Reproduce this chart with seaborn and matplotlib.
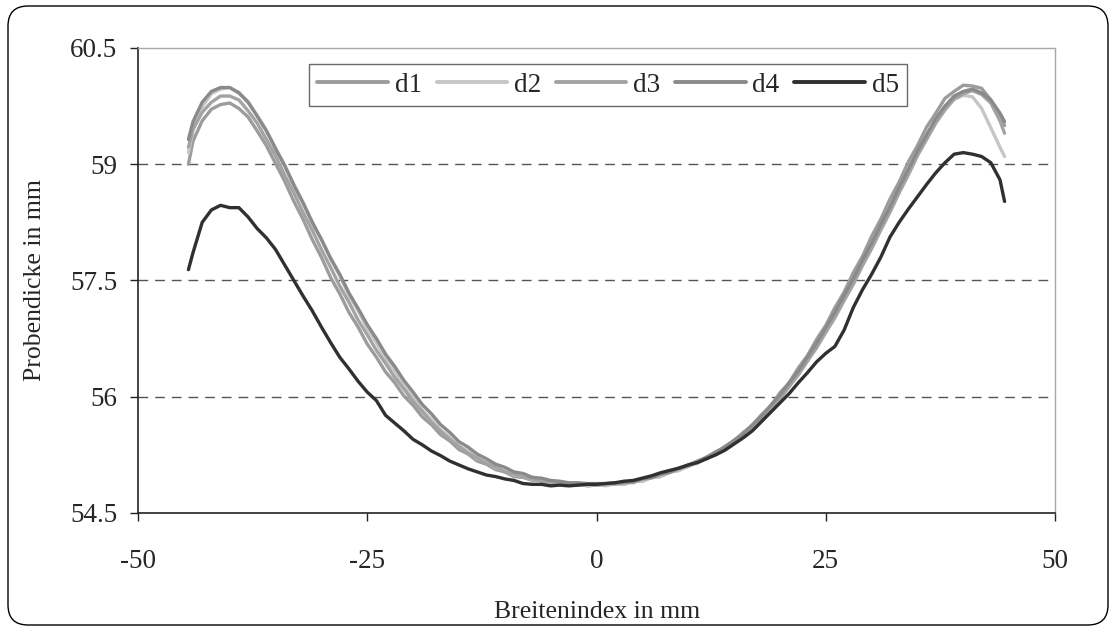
import numpy as np
import pandas as pd
import matplotlib
matplotlib.use("Agg")
import matplotlib.pyplot as plt
from matplotlib.patches import FancyBboxPatch
from matplotlib.lines import Line2D
import seaborn as sns

# ---------------- data ----------------
x_mm = [-44.5] + list(range(-44, 45)) + [44.5]

d1 = [59.00, 59.30, 59.56, 59.71, 59.77, 59.79, 59.72, 59.61, 59.43, 59.24,
      59.01, 58.78, 58.52, 58.29, 58.03, 57.80, 57.54, 57.33, 57.09, 56.90,
      56.68, 56.51, 56.32, 56.18, 56.01, 55.89, 55.74, 55.64, 55.51, 55.43,
      55.32, 55.26, 55.17, 55.13, 55.06, 55.03, 54.97, 54.96, 54.92, 54.92,
      54.88, 54.89, 54.86, 54.88, 54.85, 54.86, 54.86, 54.88, 54.87, 54.91,
      54.91, 54.96, 54.97, 55.03, 55.05, 55.12, 55.15, 55.22, 55.27, 55.36,
      55.43, 55.54, 55.63, 55.77, 55.88, 56.05, 56.18, 56.37, 56.53, 56.74,
      56.92, 57.15, 57.35, 57.60, 57.81, 58.07, 58.29, 58.55, 58.77, 59.03,
      59.24, 59.48, 59.66, 59.85, 59.94, 60.02, 60.01, 59.98, 59.83, 59.62,
      59.50]
d2 = [59.15, 59.45, 59.74, 59.91, 59.97, 59.99, 59.93, 59.81, 59.63, 59.44,
      59.21, 58.99, 58.74, 58.51, 58.26, 58.03, 57.78, 57.56, 57.31, 57.11,
      56.88, 56.70, 56.49, 56.33, 56.14, 56.00, 55.83, 55.71, 55.57, 55.48,
      55.36, 55.30, 55.20, 55.16, 55.08, 55.05, 54.99, 54.97, 54.93, 54.92,
      54.89, 54.89, 54.87, 54.88, 54.85, 54.87, 54.85, 54.88, 54.87, 54.91,
      54.91, 54.96, 54.97, 55.03, 55.05, 55.11, 55.14, 55.21, 55.25, 55.34,
      55.40, 55.51, 55.59, 55.73, 55.84, 56.00, 56.13, 56.31, 56.46, 56.66,
      56.83, 57.06, 57.26, 57.50, 57.71, 57.96, 58.18, 58.44, 58.66, 58.92,
      59.14, 59.38, 59.56, 59.75, 59.84, 59.89, 59.87, 59.72, 59.47, 59.22,
      59.10]
d3 = [59.22, 59.45, 59.67, 59.80, 59.88, 59.88, 59.83, 59.69, 59.53, 59.32,
      59.11, 58.86, 58.63, 58.38, 58.15, 57.90, 57.67, 57.43, 57.22, 56.99,
      56.80, 56.60, 56.43, 56.25, 56.10, 55.94, 55.81, 55.67, 55.56, 55.45,
      55.36, 55.27, 55.21, 55.14, 55.09, 55.03, 55.00, 54.96, 54.94, 54.91,
      54.90, 54.88, 54.88, 54.86, 54.87, 54.86, 54.88, 54.87, 54.90, 54.89,
      54.94, 54.95, 55.00, 55.02, 55.07, 55.10, 55.16, 55.20, 55.27, 55.33,
      55.42, 55.50, 55.61, 55.71, 55.85, 55.97, 56.13, 56.28, 56.46, 56.63,
      56.83, 57.02, 57.24, 57.45, 57.69, 57.91, 58.15, 58.38, 58.63, 58.86,
      59.11, 59.32, 59.53, 59.70, 59.84, 59.91, 59.95, 59.90, 59.79, 59.56,
      59.40]
d4 = [59.32, 59.55, 59.80, 59.94, 59.99, 59.99, 59.92, 59.80, 59.62, 59.43,
      59.20, 58.98, 58.73, 58.50, 58.25, 58.03, 57.79, 57.58, 57.34, 57.14,
      56.93, 56.75, 56.55, 56.39, 56.21, 56.06, 55.90, 55.78, 55.64, 55.54,
      55.42, 55.35, 55.26, 55.20, 55.13, 55.09, 55.03, 55.01, 54.96, 54.95,
      54.92, 54.91, 54.89, 54.89, 54.88, 54.88,
      54.88, 54.89, 54.89, 54.91, 54.94, 54.96, 55.00, 55.03, 55.08, 55.12,
      55.17, 55.22, 55.29, 55.35, 55.44, 55.52, 55.64, 55.75, 55.89, 56.02,
      56.18, 56.33, 56.51, 56.69, 56.89, 57.09, 57.31, 57.52, 57.76, 57.98,
      58.22, 58.45, 58.70, 58.93, 59.17, 59.38, 59.59, 59.75, 59.88, 59.94,
      59.97, 59.92, 59.83, 59.66, 59.55]
d5 = [57.64, 57.86, 58.25, 58.41, 58.47, 58.44, 58.44, 58.32, 58.17, 58.05,
      57.90, 57.70, 57.50, 57.30, 57.11, 56.90, 56.70, 56.51, 56.36, 56.20,
      56.06, 55.95, 55.76, 55.66, 55.56, 55.45, 55.38, 55.30, 55.24, 55.17,
      55.12, 55.07, 55.03, 54.99, 54.97, 54.94, 54.92, 54.88, 54.87, 54.87,
      54.85, 54.86, 54.85, 54.86, 54.87, 54.87,
      54.88, 54.89, 54.91, 54.92, 54.95, 54.98, 55.02, 55.05, 55.08, 55.12,
      55.15, 55.20, 55.25, 55.31, 55.39, 55.47, 55.56, 55.68, 55.80, 55.92,
      56.04, 56.18, 56.31, 56.45, 56.56, 56.65, 56.86, 57.15, 57.38, 57.58,
      57.80, 58.06, 58.25, 58.42, 58.58, 58.74, 58.89, 59.02, 59.13, 59.15,
      59.13, 59.10, 59.02, 58.80, 58.52]

series_names = ["d1", "d2", "d3", "d4", "d5"]
series_values = [d1, d2, d3, d4, d5]
colors = {"d1": "#9c9c9c", "d2": "#c6c6c6", "d3": "#a3a3a3",
          "d4": "#8a8a8a", "d5": "#303030"}

y_ticks = [54.5, 56, 57.5, 59, 60.5]
y_tick_labels = ["54.5", "56", "57.5", "59", "60.5"]
x_ticks = [-50, -25, 0, 25, 50]
x_tick_labels = ["-50", "-25", "0", "25", "50"]

frames = []
for name, vals in zip(series_names, series_values):
    frames.append(pd.DataFrame({"x": x_mm, "y": vals, "serie": name}))
df = pd.concat(frames, ignore_index=True)

# ---------------- figure ----------------
sns.set_style("white")
plt.rcParams["font.family"] = ["Liberation Serif", "DejaVu Serif"]

W, H = 1116, 632
fig = plt.figure(figsize=(W / 100, H / 100), dpi=100)
fig.patch.set_facecolor("white")

# rounded outer frame
frame = FancyBboxPatch((8 / W, 7 / H), (1100 / W), (619 / H),
                       boxstyle="round,pad=0,rounding_size=0.018",
                       transform=fig.transFigure, facecolor="none",
                       edgecolor="black", linewidth=1.0, mutation_aspect=W / H)
fig.patches.append(frame)

L, R, T, B = 138, 1055, 48, 513
ax = fig.add_axes([L / W, 1 - B / H, (R - L) / W, (B - T) / H])

sns.lineplot(data=df, x="x", y="y", hue="serie", palette=colors,
             hue_order=series_names, linewidth=2.4, ax=ax, legend=False,
             sort=False, estimator=None)

ax.set_xlim(-50, 50)
ax.set_ylim(54.5, 60.5)
ax.set_xticks(x_ticks)
ax.set_xticklabels(x_tick_labels)
ax.set_yticks(y_ticks)
ax.set_yticklabels(y_tick_labels)

for yv in [56, 57.5, 59]:
    ax.axhline(yv, color="#555555", linewidth=1.0, linestyle=(0, (7, 5)),
               zorder=0.5)

for s in ["left", "bottom"]:
    ax.spines[s].set_color("#222222")
    ax.spines[s].set_linewidth(1.2)
for s in ["top", "right"]:
    ax.spines[s].set_color("#a8a8a8")
    ax.spines[s].set_linewidth(1.0)

ax.tick_params(axis="both", which="major", direction="out", length=6,
               width=1.0, color="#222222", labelsize=19.5, left=True,
               bottom=True)
ax.tick_params(axis="y", pad=9)
ax.tick_params(axis="x", pad=20)

ax.set_xlabel("Breitenindex in mm", fontsize=18.5)
ax.set_ylabel("Probendicke in mm", fontsize=18.5)
ax.xaxis.set_label_coords((597 - L) / (R - L), (B - 601) / (B - T))
ax.yaxis.set_label_coords((46 - L) / (R - L), 0.5)

handles = [Line2D([0], [0], color=colors[n], linewidth=2.8) for n in series_names]
leg = fig.legend(handles, series_names, loc="center",
                 bbox_to_anchor=(608 / W, 1 - 85 / H), ncol=5,
                 fontsize=19.5, frameon=True, fancybox=False,
                 handlelength=2.6, handletextpad=0.25, columnspacing=0.55,
                 borderpad=0.3, borderaxespad=0)
leg.get_frame().set_edgecolor("#444444")
leg.get_frame().set_linewidth(1.0)

fig.savefig("out.png", dpi=100, facecolor="white")
